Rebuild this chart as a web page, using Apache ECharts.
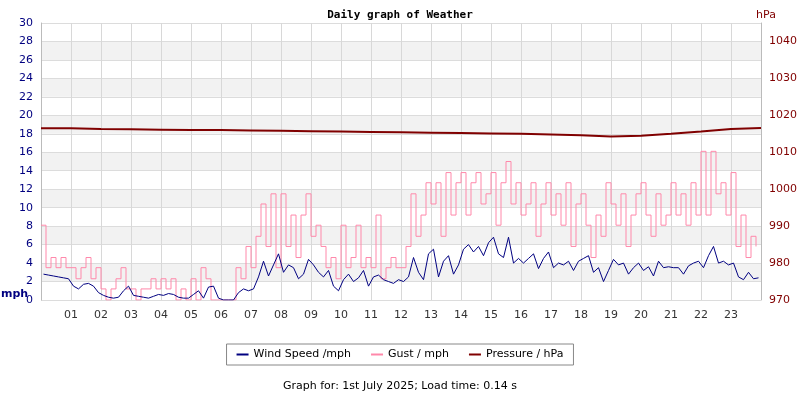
<!DOCTYPE html><html><head><meta charset="utf-8">
<script src="https://cdn.jsdelivr.net/npm/echarts@6/dist/echarts.min.js"></script>
<style>html,body{margin:0;padding:0;background:#fff}#c{width:800px;height:400px}</style></head><body><div id="c"></div>
<script>
const wind = [
2.8,2.7,2.6,2.5,2.4,2.3, 1.5,1.2,1.7,1.8,1.5,0.8, 0.5,0.3,0.2,0.3,1.0,1.5, 0.5,0.4,0.3,0.2,0.4,0.6,
0.5,0.7,0.6,0.3,0.2,0.2, 0.6,1.0,0.2,1.4,1.5,0.2, 0,0,0,0.8,1.2,1.0, 1.2,2.5,4.2,2.6,3.8,5.0,
3.0,3.8,3.5,2.3,2.8,4.4, 3.8,3.0,2.5,3.2,1.5,1.0, 2.2,2.8,2.0,2.4,3.2,1.5, 2.5,2.7,2.2,2.0,1.8,2.2,
2.0,2.5,4.6,3.0,2.2,5.0, 5.5,2.5,4.2,4.8,2.8,3.8, 5.5,6.0,5.2,5.8,4.8,6.2, 6.8,5.0,4.6,6.8,4.0,4.5,
4.0,4.5,5.0,3.4,4.5,5.2, 3.5,4.0,3.8,4.2,3.2,4.2, 4.5,4.8,3.0,3.5,2.0,3.2, 4.4,3.8,4.0,2.8,3.5,4.0,
3.2,3.6,2.6,4.2,3.5,3.6, 3.5,3.5,2.8,3.7,4.0,4.2, 3.5,4.8,5.8,4.0,4.2,3.8, 4.0,2.5,2.2,3.0,2.3,2.4];
const gust = [
8.1,3.5,4.6,3.5,4.6,3.5, 3.5,2.3,3.5,4.6,2.3,3.5, 1.2,0,1.2,2.3,3.5,1.2, 1.2,0,1.2,1.2,2.3,1.2,
2.3,1.2,2.3,0,1.2,0, 2.3,0,3.5,2.3,0,0, 0,0,0,3.5,2.3,5.8, 3.5,6.9,10.4,5.8,11.5,3.5,
11.5,5.8,9.2,4.6,9.2,11.5, 6.9,8.1,5.8,3.5,4.6,2.3, 8.1,3.5,4.6,8.1,3.5,4.6, 3.5,9.2,2.3,3.5,4.6,3.5,
3.5,5.8,11.5,6.9,9.2,12.7, 10.4,12.7,6.9,13.8,9.2,12.7, 13.8,9.2,12.7,13.8,10.4,11.5, 13.8,8.1,12.7,15.0,10.4,12.7,
9.2,10.4,12.7,6.9,10.4,12.7, 9.2,11.5,8.1,12.7,5.8,10.4, 11.5,8.1,4.6,9.2,6.9,12.7, 10.4,8.1,11.5,5.8,9.2,11.5,
12.7,9.2,6.9,11.5,8.1,9.2, 12.7,9.2,11.5,8.1,12.7,9.2, 16.1,9.2,16.1,11.5,12.7,9.2, 13.8,5.8,9.2,4.6,6.9,5.8];
const pressure = [1016.5,1016.5,1016.3,1016.2,1016.1,1016.0,1016.0,1015.9,1015.8,1015.7,1015.6,1015.5,1015.4,
1015.3,1015.2,1015.1,1015.0,1014.8,1014.6,1014.3,1014.5,1015.0,1015.6,1016.3,1016.6];
const hourLabels = ['01','02','03','04','05','06','07','08','09','10','11','12','13','14','15','16','17','18','19','20','21','22','23'];

const windData = wind.map((v,i)=>[i/6+1/12, v]);
const gustData = gust.map((v,i)=>[i/6, v]);
const presData = pressure.map((v,i)=>[i, v]);

const chart = echarts.init(document.getElementById('c'));
chart.setOption({
  animation:false,
  textStyle:{fontFamily:'DejaVu Sans'},
  title:{text:'Daily graph of Weather',left:'center',top:5,textStyle:{fontSize:11,fontWeight:'bold',fontFamily:'DejaVu Sans Mono',color:'#000'}},
  grid:{left:41,right:39,top:23,bottom:100},
  legend:{bottom:35,left:'center',itemWidth:12,itemHeight:2,itemGap:20,borderColor:'#888',borderWidth:1,padding:[5,10],
    textStyle:{fontSize:11,color:'#000'},icon:'rect',
    data:['Wind Speed /mph','Gust / mph','Pressure / hPa']},
  xAxis:{type:'value',min:0,max:24,interval:1,
    axisLine:{show:false},axisTick:{show:false},
    axisLabel:{margin:10,color:'#333',fontSize:11,formatter:v=>(v>0&&v<24)?hourLabels[v-1]:''},
    splitLine:{lineStyle:{color:'#d8d8d8'}}},
  yAxis:[{type:'value',min:0,max:30,interval:2,
    axisLine:{show:true,lineStyle:{color:'#bbb'}},axisTick:{show:false},
    axisLabel:{color:'#000080',fontSize:11},
    splitLine:{lineStyle:{color:'#dcdcdc'}},
    splitArea:{show:true,areaStyle:{color:['#ffffff','#f2f2f2']}}},
   {type:'value',min:970,max:1045,interval:10,name:'hPa',nameLocation:'end',nameGap:2,
    nameTextStyle:{color:'#800000',fontSize:11,padding:[0,0,0,10]},
    axisLine:{show:true,lineStyle:{color:'#bbb'}},axisTick:{show:false},
    axisLabel:{color:'#800000',fontSize:11,formatter:v=>v<=1040?v:''},splitLine:{show:false}}],
  series:[
    {name:'Gust / mph',type:'line',step:'end',data:gustData,symbol:'none',lineStyle:{color:'#ff88aa',width:1},itemStyle:{color:'#ff88aa'},z:2},
    {name:'Wind Speed /mph',type:'line',data:windData,symbol:'none',lineStyle:{color:'#000080',width:1},itemStyle:{color:'#000080'},z:3},
    {name:'Pressure / hPa',type:'line',yAxisIndex:1,data:presData,symbol:'none',lineStyle:{color:'#800000',width:2},itemStyle:{color:'#800000'},z:4}
  ],
  graphic:[
    {type:'text',left:1,top:289,style:{text:'mph',fill:'#000080',font:'bold 11px DejaVu Sans'}},
    {type:'text',left:'center',top:381,style:{text:'Graph for: 1st July 2025; Load time: 0.14 s',fill:'#000',font:'11px DejaVu Sans'}}]
});
</script></body></html>
